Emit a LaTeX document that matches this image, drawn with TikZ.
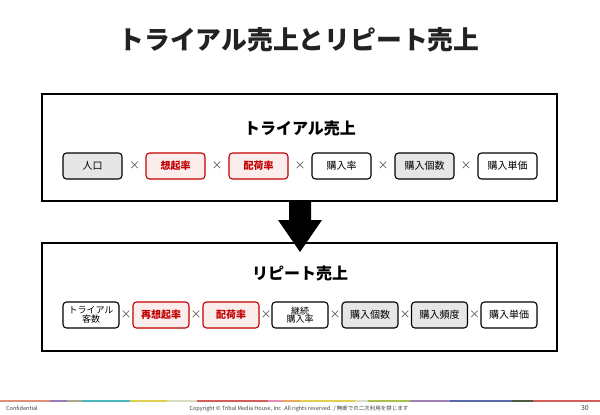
\documentclass[tikz,border=0pt]{standalone}
\usepackage{fontspec}
\setmainfont{Noto Sans CJK JP}
\definecolor{titleblack}{HTML}{222222}
\definecolor{factorred}{HTML}{C00000}
\definecolor{factorpink}{HTML}{FCEDED}
\definecolor{boxgray}{HTML}{E6E6E6}
\definecolor{timesgray}{HTML}{505050}
\definecolor{footgray}{HTML}{404040}
\begin{document}
\begin{tikzpicture}[x=1pt, y=-1pt,
    panel/.style={draw, line width=2.4pt, inner sep=0pt},
    factor/.style={draw, fill=white, rounded corners=3.5pt, line width=1.1pt, inner sep=0pt,
        minimum width=59pt, minimum height=26pt, font=\fontsize{10}{12}\selectfont},
    grayfactor/.style={factor, fill=boxgray},
    redfactor/.style={factor, draw=factorred, fill=factorpink, text=factorred,
        font=\bfseries\fontsize{10}{12}\selectfont},
    twoline/.style={align=center, font=\fontsize{9}{8.5}\selectfont},
    times/.style={text=timesgray, inner sep=0pt, font=\fontsize{11}{12}\selectfont},
    foot/.style={text=footgray, inner sep=0pt, font=\fontsize{5.5}{6}\selectfont}]
    \useasboundingbox (0,0) rectangle (600,415);
    % title
    \node [text=titleblack, font=\bfseries\fontsize{25.8}{30}\selectfont] (title) at (299,40) {トライアル売上とリピート売上};
    % panels
    \node [panel, minimum width=515pt, minimum height=107pt] (trialpanel)  at (299.5,147.5) {};
    \node [panel, minimum width=515pt, minimum height=108pt] (repeatpanel) at (299.5,297) {};
    \node [font=\bfseries\fontsize{16}{18}\selectfont] (trialhead)  at (300,128) {トライアル売上};
    \node [font=\bfseries\fontsize{16}{18}\selectfont] (repeathead) at (300,273) {リピート売上};
    % big arrow
    \fill (289,201) -- (311,201) -- (311,220) -- (322,220) -- (300,252) -- (278,220) -- (289,220) -- cycle;
    % trial row
    \node [grayfactor] (jinko)  at (92.5,166)  {人口};
    \node [times]      (t1)     at (134.5,166) {×};
    \node [redfactor]  (soki)   at (175.5,166) {想起率};
    \node [times]      (t2)     at (217,166)   {×};
    \node [redfactor]  (haika)  at (258.5,166) {配荷率};
    \node [times]      (t3)     at (300,166)   {×};
    \node [factor]     (konyu)  at (341.5,166) {購入率};
    \node [times]      (t4)     at (383,166)   {×};
    \node [grayfactor] (kosu)   at (424.5,166) {購入個数};
    \node [times]      (t5)     at (466,166)   {×};
    \node [factor]     (tanka)  at (507.5,166) {購入単価};
    % repeat row
    \node [factor, minimum width=56pt, twoline] (kyakusu) at (91,315) {トライアル\\客数};
    \node [times]      (r1)      at (126,315) {×};
    \node [redfactor, minimum width=56pt] (resoki)  at (161,315) {再想起率};
    \node [times]      (r2)      at (196,315) {×};
    \node [redfactor, minimum width=56pt] (rehaika) at (231,315) {配荷率};
    \node [times]      (r3)      at (266,315) {×};
    \node [factor, minimum width=56pt, twoline] (keizoku) at (300,315) {継続\\購入率};
    \node [times]      (r4)      at (335,315) {×};
    \node [grayfactor, minimum width=56pt] (rekosu)  at (370,315) {購入個数};
    \node [times]      (r5)      at (405,315) {×};
    \node [grayfactor, minimum width=56pt] (hindo)   at (439.5,315) {購入頻度};
    \node [times]      (r6)      at (474.5,315) {×};
    \node [factor, minimum width=56pt] (retanka) at (509,315) {購入単価};
    % footer bar
    \fill [color={rgb,255:red,224;green,144;blue,122}] (0,399.5)   rectangle (50,401.8);
    \fill [color={rgb,255:red,155;green,123;blue,181}] (50,399.5)  rectangle (67,401.8);
    \fill [color={rgb,255:red,168;green,168;blue,144}] (67,399.5)  rectangle (82,401.8);
    \fill [color={rgb,255:red,75;green,184;blue,192}]  (82,399.5)  rectangle (130,401.8);
    \fill [color={rgb,255:red,224;green,208;blue,80}]  (130,399.5) rectangle (167,401.8);
    \fill [color={rgb,255:red,216;green,220;blue,192}] (167,399.5) rectangle (197,401.8);
    \fill [color={rgb,255:red,208;green,96;blue,88}]   (197,399.5) rectangle (268,401.8);
    \fill [color={rgb,255:red,224;green,144;blue,176}] (268,399.5) rectangle (282,401.8);
    \fill [color={rgb,255:red,232;green,168;blue,96}]  (282,399.5) rectangle (300,401.8);
    \fill [color={rgb,255:red,224;green,208;blue,80}]  (300,399.5) rectangle (355,401.8);
    \fill [color={rgb,255:red,216;green,220;blue,192}] (355,399.5) rectangle (368,401.8);
    \fill [color={rgb,255:red,168;green,192;blue,80}]  (368,399.5) rectangle (410,401.8);
    \fill [color={rgb,255:red,160;green,128;blue,184}] (410,399.5) rectangle (450,401.8);
    \fill [color={rgb,255:red,88;green,104;blue,168}]  (450,399.5) rectangle (512,401.8);
    \fill [color={rgb,255:red,76;green,90;blue,64}]    (512,399.5) rectangle (533,401.8);
    \fill [color={rgb,255:red,208;green,96;blue,88}]   (533,399.5) rectangle (600,401.8);
    % footer text
    \node [foot, anchor=west] (confid) at (6,408.5)   {Confidential};
    \node [foot]              (copy)   at (299,408.5) {Copyright © Tribal Media House, Inc. All rights reserved. / 無断での二次利用を禁じます};
    \node [foot, anchor=east, font=\fontsize{7}{8}\selectfont] (page) at (589,408.5) {30};
\end{tikzpicture}
\end{document}
